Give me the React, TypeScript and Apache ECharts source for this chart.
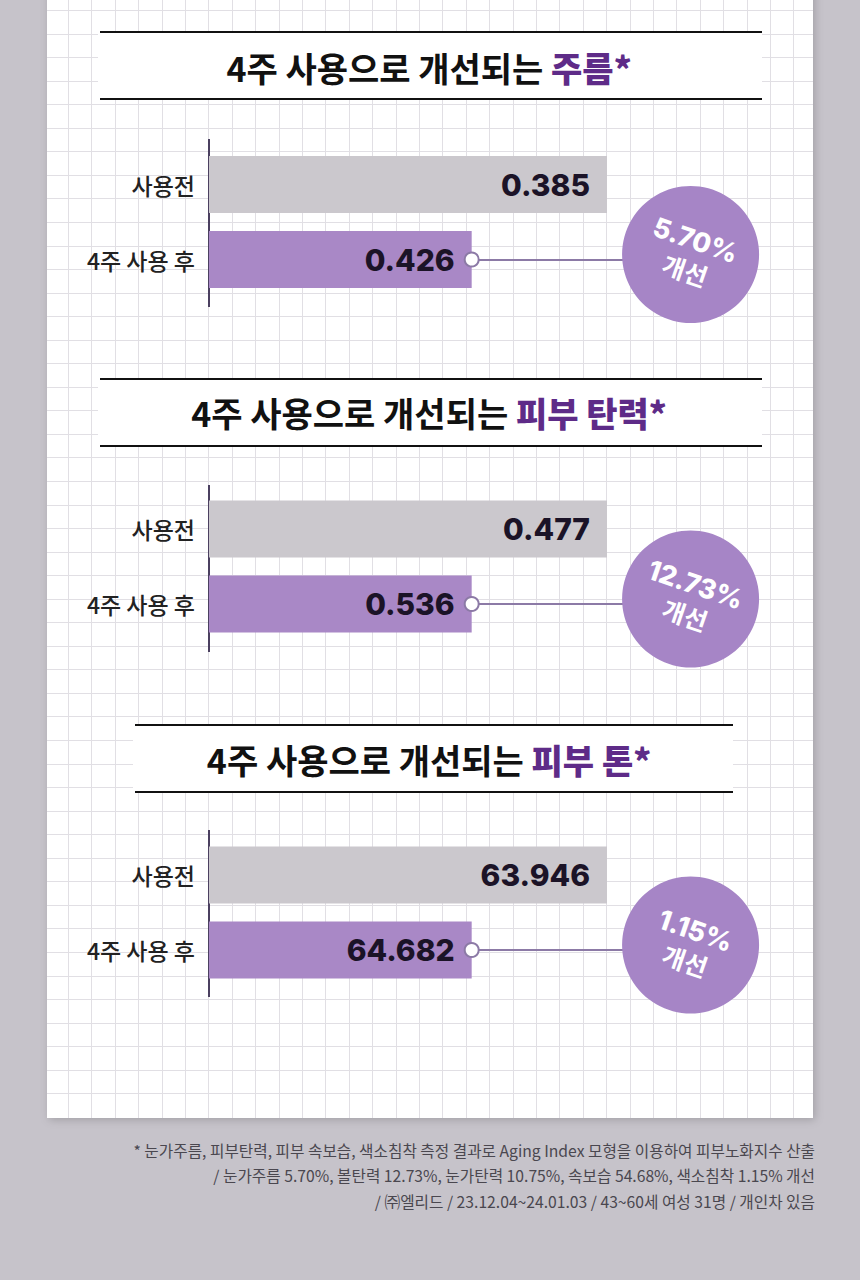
import React, { useEffect, useRef } from "react";
import * as echarts from "echarts";

// ---- data ----
const categories = ["사용전", "4주 사용 후"];
const titlePrefix = "4주 사용으로 개선되는 ";
const titleHighlights = ["주름*", "피부 탄력*", "피부 톤*"];
const wrinkleValues = [0.385, 0.426];
const elasticityValues = [0.477, 0.536];
const toneValues = [63.946, 64.682];
// relative bar lengths as drawn in the picture (illustrative, not to scale)
const barLengths = [100, 66];
const improvementRates = ["5.70%", "12.73%", "1.15%"];
const improvementWord = "개선";
const footnotes = [
  "* 눈가주름, 피부탄력, 피부 속보습, 색소침착 측정 결과로 Aging Index 모형을 이용하여 피부노화지수 산출",
  "/ 눈가주름 5.70%, 볼탄력 12.73%, 눈가탄력 10.75%, 속보습 54.68%, 색소침착 1.15% 개선",
  "/ ㈜엘리드 / 23.12.04~24.01.03 / 43~60세 여성 31명 / 개인차 있음",
];

const panelValues = [wrinkleValues, elasticityValues, toneValues];

// ---- layout / style ----
const KR = '"Noto Sans CJK KR", "Noto Sans", sans-serif';
const NUM = 'Inter, "Noto Sans CJK KR", sans-serif';
const PAGE_BG = "#c6c3ca";
const GREY = "#cbc8cd";
const PURPLE = "#a988c6";
const BADGE = "#a685c6";
const LINE = "#8c7aa6";
const AXIS = "#4b4060";
const TITLE_PURPLE = "#5e2b88";

const panels = [
  { gridTop: 147, axisTop: 139, axisBottom: 307, bandTop: 32, bandBottom: 99, bandX1: 98, bandX2: 762, titleY: 67 },
  { gridTop: 491.5, axisTop: 485, axisBottom: 652, bandTop: 379, bandBottom: 446, bandX1: 98, bandX2: 762, titleY: 412 },
  { gridTop: 837.5, axisTop: 830, axisBottom: 997, bandTop: 725, bandBottom: 792, bandX1: 133, bandX2: 733, titleY: 759 },
];
const GRID_LEFT = 209;
const GRID_WIDTH = 557.2;
const X_MAX = 140;
const BADGE_X = 121;

function fmt(v: number) {
  return v.toFixed(3);
}

export default function App() {
  const ref = useRef<HTMLDivElement>(null);

  useEffect(() => {
    document.body.style.margin = "0";
    document.body.style.background = PAGE_BG;
    if (!ref.current) return;
    const chart = echarts.init(ref.current, undefined, { renderer: "svg" });

    const graphics: any[] = [];
    // card
    graphics.push({
      type: "rect",
      z: 0,
      shape: { x: 47, y: -20, width: 766, height: 1138 },
      style: { fill: "#ffffff", shadowBlur: 8, shadowColor: "rgba(0,0,0,0.18)", shadowOffsetX: 2, shadowOffsetY: 2 },
      silent: true,
    });
    // paper grid
    for (let x = 68; x < 812; x += 23.4) {
      graphics.push({
        type: "line",
        z: 0,
        shape: { x1: Math.round(x) + 0.5, y1: 0, x2: Math.round(x) + 0.5, y2: 1118 },
        style: { stroke: "#e1dfe4", lineWidth: 1 },
        silent: true,
      });
    }
    for (let y = 10; y < 1112; y += 23.55) {
      graphics.push({
        type: "line",
        z: 0,
        shape: { x1: 47, y1: Math.round(y) + 0.5, x2: 813, y2: Math.round(y) + 0.5 },
        style: { stroke: "#e1dfe4", lineWidth: 1 },
        silent: true,
      });
    }
    panels.forEach((p, i) => {
      graphics.push({
        type: "rect",
        z: 1,
        shape: { x: p.bandX1, y: p.bandTop, width: p.bandX2 - p.bandX1, height: p.bandBottom - p.bandTop },
        style: { fill: "#ffffff" },
        silent: true,
      });
      [p.bandTop, p.bandBottom].forEach((yy) =>
        graphics.push({
          type: "line",
          z: 2,
          shape: { x1: p.bandX1 + 2, y1: yy, x2: p.bandX2, y2: yy },
          style: { stroke: "#111111", lineWidth: 2.2 },
          silent: true,
        })
      );
      graphics.push({
        type: "text",
        z: 3,
        x: 429,
        y: p.titleY,
        style: {
          text: `{a|${titlePrefix}}{b|${titleHighlights[i]}}`,
          align: "center",
          verticalAlign: "middle",
          rich: {
            a: { fontSize: 34, fontWeight: 700, fontFamily: KR, fill: "#111111" },
            b: { fontSize: 34, fontWeight: 800, fontFamily: KR, fill: TITLE_PURPLE },
          },
        },
        silent: true,
      });
      graphics.push({
        type: "line",
        z: 3,
        shape: { x1: GRID_LEFT, y1: p.axisTop, x2: GRID_LEFT, y2: p.axisBottom },
        style: { stroke: AXIS, lineWidth: 2 },
        silent: true,
      });
    });
    footnotes.forEach((t, i) => {
      graphics.push({
        type: "text",
        z: 3,
        x: 815,
        y: 1150 + i * 25.5,
        style: {
          text: t,
          align: "right",
          verticalAlign: "middle",
          fontSize: 15.7,
          fontFamily: KR,
          fill: "#4a474f",
        },
        silent: true,
      });
    });

    const series: any[] = [];
    panels.forEach((_, i) => {
      const vals = panelValues[i];
      series.push({
        type: "bar",
        xAxisIndex: i,
        yAxisIndex: i,
        barWidth: 57,
        z: 5,
        silent: true,
        data: barLengths.map((v, j) => ({ value: v, itemStyle: { color: j === 0 ? GREY : PURPLE } })),
        label: {
          show: true,
          position: "insideRight",
          distance: 17,
          formatter: (prm: any) => fmt(vals[prm.dataIndex]),
          fontSize: 30,
          fontWeight: 800,
          fontFamily: NUM,
          color: "#1b1327",
        },
        markLine: {
          silent: true,
          symbol: ["none", "none"],
          label: { show: false },
          lineStyle: { color: LINE, width: 2, type: "solid" },
          data: [[{ coord: [barLengths[1], 1] }, { coord: [BADGE_X, 1] }]],
        },
      });
      series.push({
        type: "scatter",
        xAxisIndex: i,
        yAxisIndex: i,
        z: 6,
        silent: true,
        symbol: "circle",
        symbolSize: 137,
        symbolOffset: [0, -5],
        itemStyle: { color: BADGE, opacity: 1 },
        data: [[BADGE_X, 1]],
        label: {
          show: true,
          position: "inside",
          rotate: -19,
          formatter: `{a|${improvementRates[i]}}\n{b|${improvementWord}}`,
          rich: {
            a: { fontSize: 27, fontWeight: 800, fontFamily: NUM, color: "#ffffff", lineHeight: 32, align: "center" },
            b: { fontSize: 25, fontWeight: 700, fontFamily: KR, color: "#ffffff", lineHeight: 30, align: "center" },
          },
        },
      });
      series.push({
        type: "scatter",
        xAxisIndex: i,
        yAxisIndex: i,
        z: 7,
        silent: true,
        symbol: "circle",
        symbolSize: 14,
        itemStyle: { color: "#ffffff", borderColor: LINE, borderWidth: 2, opacity: 1 },
        data: [[barLengths[1], 1]],
      });
    });

    chart.setOption({
      animation: false,
      backgroundColor: PAGE_BG,
      grid: panels.map((p) => ({ left: GRID_LEFT, top: p.gridTop, width: GRID_WIDTH, height: 150 })),
      xAxis: panels.map((_, i) => ({ gridIndex: i, type: "value", min: 0, max: X_MAX, show: false })),
      yAxis: panels.map((_, i) => ({
        gridIndex: i,
        type: "category",
        data: categories,
        inverse: true,
        z: 5,
        axisLine: { show: false },
        axisTick: { show: false },
        splitLine: { show: false },
        axisLabel: { margin: 14, fontSize: 23, fontWeight: 500, color: "#222222", fontFamily: KR },
      })),
      graphic: { elements: graphics },
      series,
    });

    return () => chart.dispose();
  }, []);

  return <div ref={ref} style={{ width: 860, height: 1280 }} />;
}
